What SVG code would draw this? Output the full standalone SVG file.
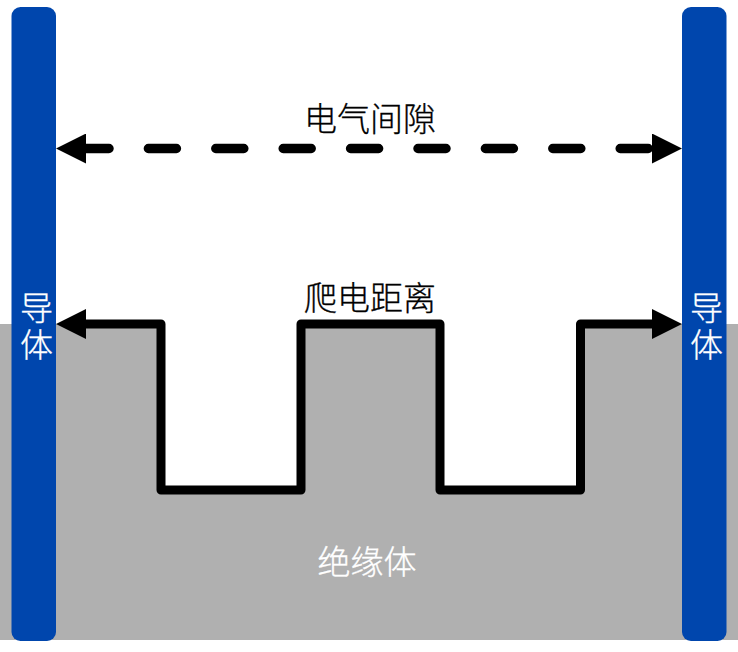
<svg xmlns="http://www.w3.org/2000/svg" width="738" height="652" viewBox="0 0 738 652">
<style>
.t{font-family:"Noto Sans CJK SC","Noto Sans",sans-serif;font-size:33px;font-weight:300;text-anchor:middle}
.k{fill:#000;stroke:#000;stroke-width:.3}.w{fill:#fff;stroke:#fff;stroke-width:.3}
.v{writing-mode:vertical-rl;text-anchor:start;letter-spacing:4px}
.bar{fill:#0046ad}
.c{fill:none;stroke:#000;stroke-width:9;stroke-linejoin:round;marker-start:url(#ah);marker-end:url(#ah)}
.d{stroke-width:9.500;stroke-linecap:round;stroke-dasharray:28 39.400;stroke-dashoffset:5}
</style>
<defs>
<marker id="ah" markerUnits="userSpaceOnUse" markerWidth="30" markerHeight="30" refX="0" refY="15" orient="auto-start-reverse"><path d="M0 0L30 15L0 30Z" fill="#000"/></marker>
</defs>
<rect width="738" height="652" fill="#fff"/>
<g id="insulator">
<path d="M0 324H161V490H301V324H440V490H580V324H738V640H0Z" fill="#b0b0b0"/>
<text class="t w" x="367" y="574">绝缘体</text>
</g>
<g id="conductor-left">
<rect class="bar" x="11.500" y="7" width="44.500" height="634" rx="9"/>
<text class="t w v" x="36.500" y="291">导体</text>
</g>
<g id="conductor-right">
<rect class="bar" x="682" y="7" width="44.500" height="634" rx="9"/>
<text class="t w v" x="706.500" y="291">导体</text>
</g>
<g id="connectors">
<path class="c d" d="M86 148.500H652"/>
<path class="c" d="M86 324H161V490H301V324H440V490H580.500V324H652"/>
</g>
<g id="labels">
<text class="t k" x="370" y="131">电气间隙</text>
<text class="t k" x="370" y="310">爬电距离</text>
</g>
</svg>
